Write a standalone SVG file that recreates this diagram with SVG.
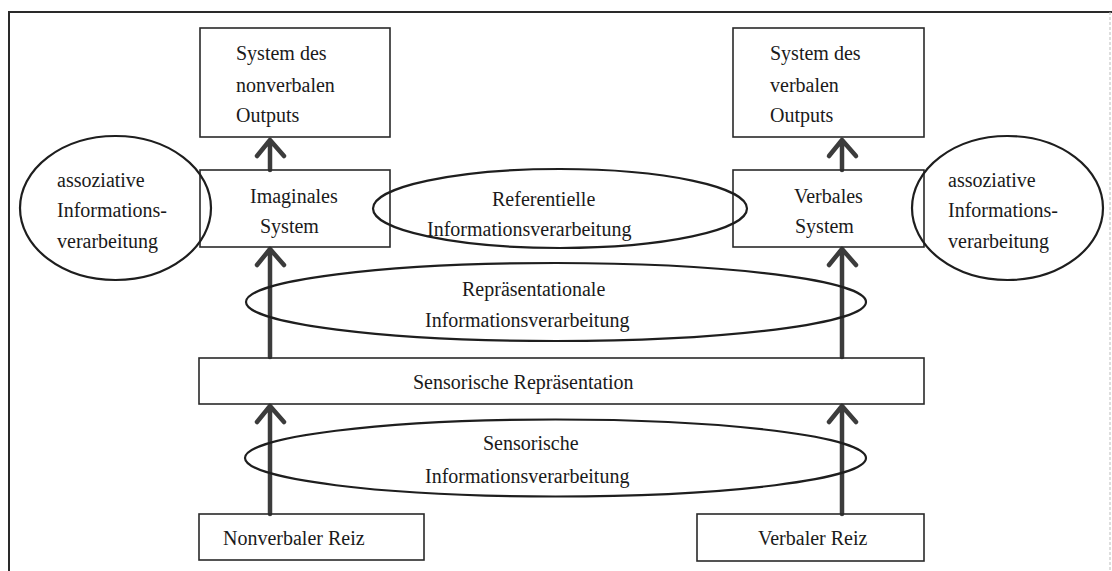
<svg xmlns="http://www.w3.org/2000/svg" width="1112" height="571" viewBox="0 0 1112 571">
<style>
.box{fill:none;stroke:#2a2a2a;stroke-width:1.6}
.ell{fill:none;stroke:#1e1e1e;stroke-width:2.2}
.t{font-family:"Liberation Serif","Times New Roman",serif;font-size:20px;fill:#1a1a1a}
.arr{fill:none;stroke:#3c3c3c;stroke-width:4.5;stroke-linecap:round;stroke-linejoin:round}
</style>
<rect x="0" y="0" width="1112" height="571" fill="#ffffff"/>
<g id="frame">
<path d="M9,580 V12 H1112" fill="none" stroke="#2a2a2a" stroke-width="2"/>
<path d="M1110,12 V580" fill="none" stroke="#bdbdbd" stroke-width="1" stroke-dasharray="3 2"/>
</g>
<g id="connectors">
<path class="arr" d="M270,170 V140 M257,156 L270,140 L284,156"/>
<path class="arr" d="M842,170 V140 M829,156 L842,140 L856,156"/>
<path class="arr" d="M270,357 V249 M257,265 L270,249 L284,265"/>
<path class="arr" d="M842,357 V249 M829,265 L842,249 L856,265"/>
<path class="arr" d="M270,514 V406 M257,422 L270,406 L284,422"/>
<path class="arr" d="M842,514 V406 M829,422 L842,406 L856,422"/>
</g>
<g id="out-nonverbal">
<rect class="box" x="200" y="28" width="190" height="109"/>
<text class="t" x="236" y="60">System des</text>
<text class="t" x="236" y="92">nonverbalen</text>
<text class="t" x="236" y="122">Outputs</text>
</g>
<g id="out-verbal">
<rect class="box" x="733" y="28" width="191" height="109"/>
<text class="t" x="770" y="60">System des</text>
<text class="t" x="770" y="92">verbalen</text>
<text class="t" x="770" y="122">Outputs</text>
</g>
<g id="imaginal">
<rect class="box" x="200" y="170" width="190" height="77"/>
<text class="t" x="250" y="203">Imaginales</text>
<text class="t" x="260" y="233">System</text>
</g>
<g id="verbal">
<rect class="box" x="733" y="170" width="191" height="77"/>
<text class="t" x="794" y="203">Verbales</text>
<text class="t" x="795" y="233">System</text>
</g>
<g id="assoc-left">
<ellipse class="ell" cx="115.5" cy="208" rx="95.5" ry="72"/>
<text class="t" x="57" y="187">assoziative</text>
<text class="t" x="57" y="217">Informations-</text>
<text class="t" x="57" y="248">verarbeitung</text>
</g>
<g id="assoc-right">
<ellipse class="ell" cx="1007.5" cy="208" rx="95.5" ry="72"/>
<text class="t" x="948" y="187">assoziative</text>
<text class="t" x="948" y="217">Informations-</text>
<text class="t" x="948" y="248">verarbeitung</text>
</g>
<g id="referential">
<ellipse class="ell" cx="560" cy="208.5" rx="187" ry="39.5"/>
<text class="t" x="492" y="206">Referentielle</text>
<text class="t" x="427" y="236">Informationsverarbeitung</text>
</g>
<g id="representational">
<ellipse class="ell" cx="556" cy="302" rx="310" ry="39"/>
<text class="t" x="462" y="296">Repräsentationale</text>
<text class="t" x="425" y="327">Informationsverarbeitung</text>
</g>
<g id="sensory-rep">
<rect class="box" x="199" y="358" width="725" height="46"/>
<text class="t" x="413" y="389">Sensorische Repräsentation</text>
</g>
<g id="sensory-proc">
<ellipse class="ell" cx="555.5" cy="458" rx="310.5" ry="38.5"/>
<text class="t" x="483" y="450">Sensorische</text>
<text class="t" x="425" y="483">Informationsverarbeitung</text>
</g>
<g id="nonverbal-stim">
<rect class="box" x="199" y="514" width="225" height="46"/>
<text class="t" x="223" y="545">Nonverbaler Reiz</text>
</g>
<g id="verbal-stim">
<rect class="box" x="697" y="514" width="227" height="47"/>
<text class="t" x="758" y="545">Verbaler Reiz</text>
</g>
</svg>
